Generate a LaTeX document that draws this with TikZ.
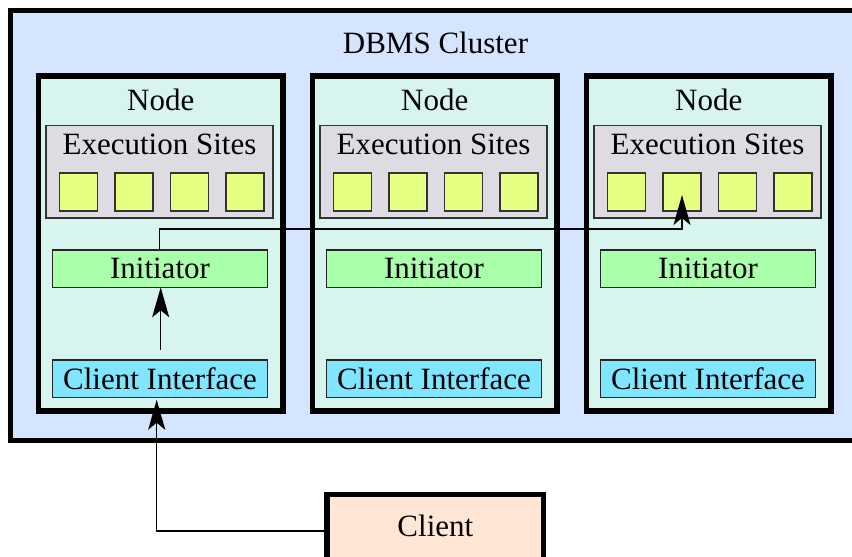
\documentclass[tikz,border=0pt]{standalone}
\usepackage{fontspec}
\setmainfont{Liberation Serif}
\usetikzlibrary{arrows.meta,calc}
\definecolor{clusterfill}{HTML}{D5E5FF}
\definecolor{nodefill}{HTML}{D7F4EE}
\definecolor{esfill}{HTML}{DFDBE3}
\definecolor{sqfill}{HTML}{E5FF80}
\definecolor{initfill}{HTML}{AAFFAA}
\definecolor{cifill}{HTML}{80E5FF}
\definecolor{clientfill}{HTML}{FFE6D5}
\definecolor{thinborder}{HTML}{333333}
\begin{document}
\begin{tikzpicture}[x=1pt,y=-1pt,
  every node/.style={font=\fontsize{31}{36}\selectfont, inner sep=0pt, outer sep=0pt},
  cluster/.style={draw=black, line width=5pt, fill=clusterfill, anchor=north west},
  nodebox/.style={draw=black, line width=5.5pt, fill=nodefill, anchor=north west},
  esbox/.style={draw=thinborder, line width=1.8pt, fill=esfill, anchor=north west},
  sqbox/.style={draw=thinborder, line width=1.5pt, fill=sqfill, minimum width=38pt, minimum height=38pt},
  initbox/.style={draw=black!85, line width=1.5pt, fill=initfill, minimum width=215.4pt, minimum height=37.3pt},
  cibox/.style={draw=black!85, line width=1.5pt, fill=cifill, minimum width=214.6pt, minimum height=37.7pt},
  clientbox/.style={draw=black, line width=5.5pt, fill=clientfill, minimum width=216.7pt, minimum height=72.5pt, text height=22pt, text depth=11pt},
  conn/.style={line width=1.5pt, draw=black},
  arr/.style={conn, -{Stealth[length=30pt, width=17pt, inset=7pt]}}
]
\useasboundingbox (0,0) rectangle (852,557);
\clip (0,0) rectangle (852,557);
\fill[white] (0,0) rectangle (852,557);

\node[cluster, minimum width=889.5pt, minimum height=429.5pt] (cl) at (10.5,10.5) {};
\node (cltitle) at (435.5,43) {DBMS Cluster};

\foreach \i/\x in {1/38.5,2/312.5,3/586.5}{
  \node[nodebox, minimum width=244.5pt, minimum height=335pt] (n\i) at (\x,76) {};
  \node (nt\i) at (\x+122.25,100) {Node};
  \node[esbox, minimum width=227pt, minimum height=92.5pt] (es\i) at (\x+7.5,125.5) {};
  \node (est\i) at (\x+121,144) {Execution Sites};
  \foreach \j/\dx in {1/39.8,2/95.5,3/151,4/206.7}{
    \node[sqbox] (sq\i\j) at (\x+\dx,192) {};
  }
  \node[initbox] (init\i) at (\x+121.5,268.65) {Initiator};
  \node[cibox] (ci\i) at (\x+121.5,378.85) {Client Interface};
}

\node[clientbox] (client) at (435.35,530.75) {Client};

\draw[arr, shorten <=10pt] ([xshift=0.7pt]ci1.north) -- ([xshift=0.7pt]init1.south);
\coordinate (turn) at ($(sq32.south)+(0,18)$);
\draw[arr] ([xshift=-0.7pt]init1.north) |- (turn) -- ($(sq32.center)+(0,3)$);
\draw[arr] (client.west) -| ($(ci1.south)+(-3.3,2)$);
\end{tikzpicture}
\end{document}
